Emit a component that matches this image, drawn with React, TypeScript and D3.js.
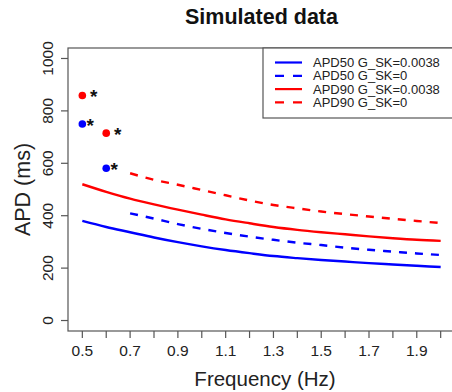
import React from 'react'
import * as d3 from 'd3'

// frequencies (Hz)
const freqAll = [0.5, 0.6, 0.7, 0.8, 0.9, 1.0, 1.1, 1.2, 1.3, 1.4, 1.5, 1.6, 1.7, 1.8, 1.9, 2.0]
const freqFrom07 = [0.7, 0.8, 0.9, 1.0, 1.1, 1.2, 1.3, 1.4, 1.5, 1.6, 1.7, 1.8, 1.9, 2.0]

// simulated APD (ms)
const apd50Gsk = [380, 357, 337, 317, 299, 283, 269, 257, 246, 238, 231, 225, 219, 214, 209, 204]
const apd50NoGsk = [409, 389, 368, 350, 334, 320, 308, 297, 288, 278, 270, 263, 256, 250]
const apd90Gsk = [520, 491, 465, 443, 423, 404, 386, 371, 357, 346, 337, 329, 321, 314, 308, 304]
const apd90NoGsk = [562, 537, 518, 498, 478, 458, 441, 428, 416, 406, 397, 388, 380, 372]

// points at low frequencies with an asterisk
const pointFreq = [0.5, 0.6]
const apd50Points = [750, 581]
const apd90Points = [859, 715]

const xTicks = [0.5, 0.6, 0.7, 0.8, 0.9, 1.0, 1.1, 1.2, 1.3, 1.4, 1.5, 1.6, 1.7, 1.8, 1.9, 2.0]
const xTickLabels = [0.5, 0.7, 0.9, 1.1, 1.3, 1.5, 1.7, 1.9]
const yTicks = [0, 200, 400, 600, 800, 1000]

const legendLabels = ['APD50 G_SK=0.0038', 'APD50 G_SK=0', 'APD90 G_SK=0.0038', 'APD90 G_SK=0']

const W = 452
const H = 392
const left = 68
const right = 455
const top = 48
const bottom = 331
const font = 'Liberation Sans, Arial, sans-serif'
const axisCol = '#555'

const App = () => {
  const x = d3.scaleLinear().domain([0.44, 2.06]).range([left, right])
  const y = d3.scaleLinear().domain([-40, 1040]).range([bottom, top])

  const line = d3.line<[number, number]>()
    .x(d => x(d[0]))
    .y(d => y(d[1]))
    .curve(d3.curveMonotoneX)

  const series = [
    { f: freqAll, v: apd50Gsk, color: '#0000ff', dash: '' },
    { f: freqFrom07, v: apd50NoGsk, color: '#0000ff', dash: '8 8' },
    { f: freqAll, v: apd90Gsk, color: '#ff0000', dash: '' },
    { f: freqFrom07, v: apd90NoGsk, color: '#ff0000', dash: '8 8' },
  ]

  const points = [
    { v: apd90Points, color: '#ff0000', dx: 0.048 },
    { v: apd50Points, color: '#0000ff', dx: 0.033 },
  ]

  const legX = 263
  const legRow = 13.3

  return (
    <svg width={W} height={H} style={{ position: 'absolute', left: 0, top: 0 }} fontFamily={font}>
      <rect width={W} height={H} fill="#fff" />
      <text x={(left + right) / 2} y={24} textAnchor="middle" fontSize={21.5} fontWeight="bold" fill="#111">
        Simulated data
      </text>

      {series.map((s, i) => (
        <path key={i}
          d={line(s.f.map((f, j) => [f, s.v[j]] as [number, number])) || ''}
          fill="none" stroke={s.color} strokeWidth={2.4} strokeDasharray={s.dash} />
      ))}

      {points.map((p, i) => (
        <g key={i}>
          {pointFreq.map((f, j) => (
            <g key={j}>
              <circle cx={x(f)} cy={y(p.v[j])} r={3.8} fill={p.color} />
              <text x={x(f + p.dx)} y={y(p.v[j]) + 8} textAnchor="middle" fontSize={19} fontWeight="bold" fill="#111">*</text>
            </g>
          ))}
        </g>
      ))}

      {/* plot box */}
      <rect x={left} y={top} width={right - left} height={bottom - top} fill="none" stroke={axisCol} strokeWidth={1.2} />

      {/* x axis */}
      {xTicks.map(t => (
        <line key={t} x1={x(t)} x2={x(t)} y1={bottom} y2={bottom + 7} stroke={axisCol} strokeWidth={1.2} />
      ))}
      {xTickLabels.map(t => (
        <text key={t} x={x(t)} y={356} textAnchor="middle" fontSize={15.5} fill="#222">{t.toFixed(1)}</text>
      ))}
      <text x={265} y={386} textAnchor="middle" fontSize={20.5} fill="#222">Frequency (Hz)</text>

      {/* y axis */}
      {yTicks.map(t => (
        <g key={t}>
          <line x1={left - 7} x2={left} y1={y(t)} y2={y(t)} stroke={axisCol} strokeWidth={1.2} />
          <text transform={`translate(53,${y(t)}) rotate(-90)`} textAnchor="middle" fontSize={15.5} fill="#222">{t}</text>
        </g>
      ))}
      <text transform={`translate(30,${(top + bottom) / 2}) rotate(-90)`} textAnchor="middle" fontSize={21.5} fill="#222">APD (ms)</text>

      {/* legend */}
      <rect x={legX} y={top} width={right - legX} height={70} fill="#fff" stroke={axisCol} strokeWidth={1.2} />
      {legendLabels.map((lab, i) => (
        <g key={lab} transform={`translate(0,${top + 14.5 + i * legRow})`}>
          <line x1={275} x2={302} y1={0} y2={0} stroke={series[i].color} strokeWidth={2.2}
            strokeDasharray={series[i].dash ? '9 9' : ''} />
          <text x={313} y={4.5} fontSize={13} fill="#222">{lab}</text>
        </g>
      ))}
    </svg>
  )
}

export default App
